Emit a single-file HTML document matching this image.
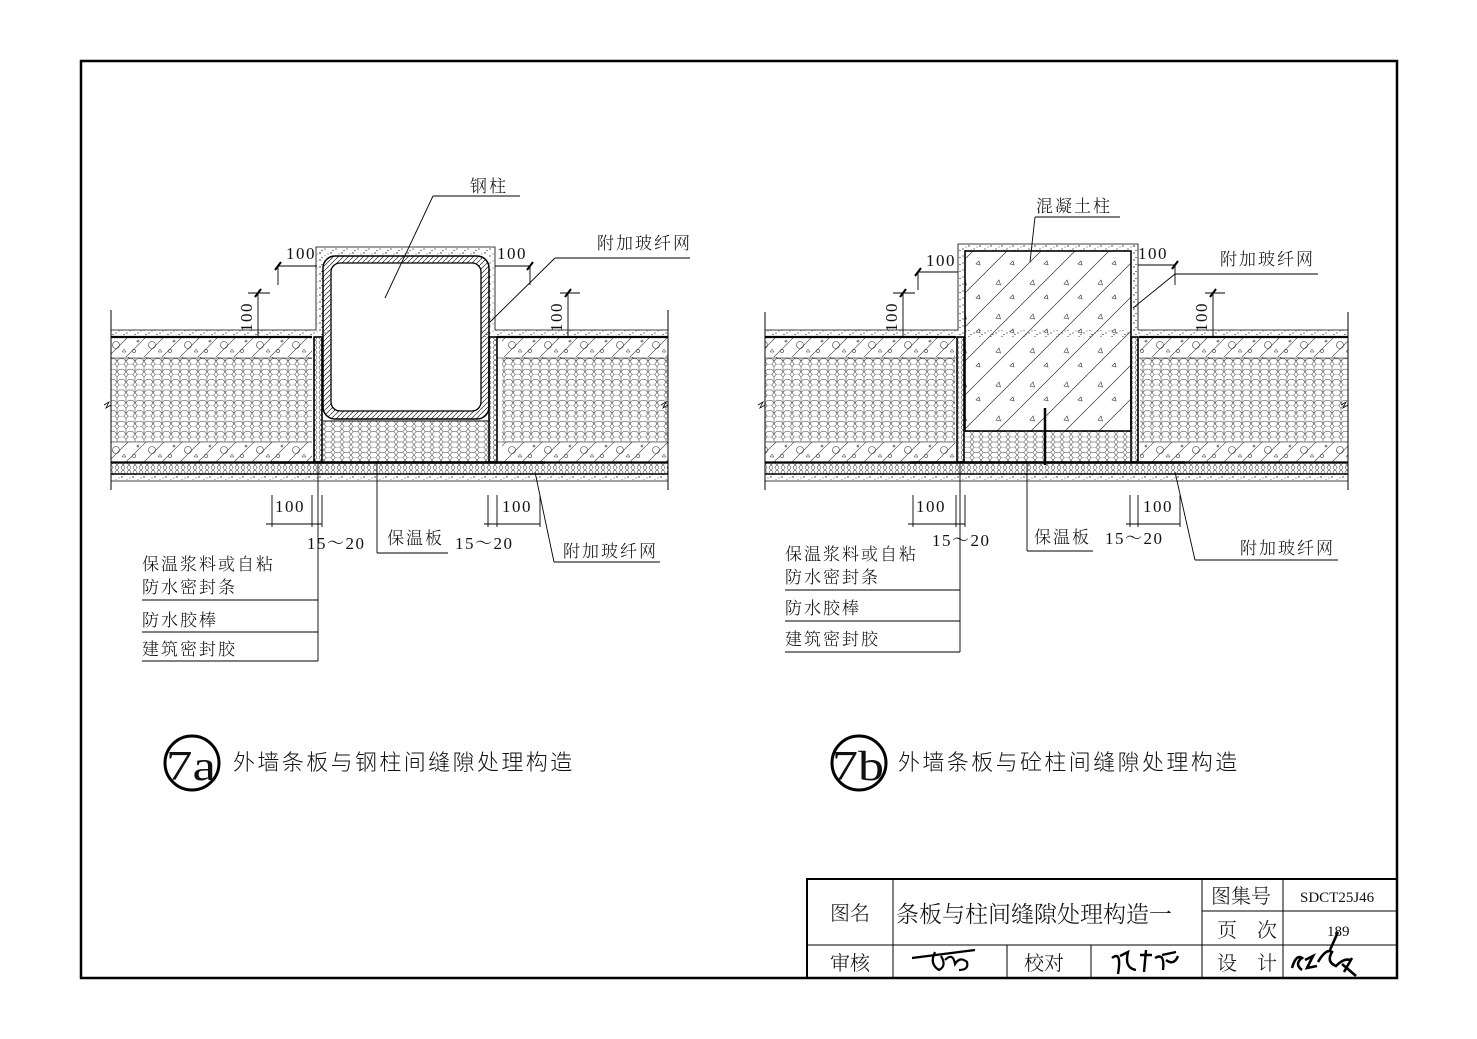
<!DOCTYPE html>
<html><head><meta charset="utf-8"><style>
html,body{margin:0;padding:0;background:#fff;}
svg{display:block;}
text{font-family:"Liberation Serif","Noto Serif CJK SC","Noto Sans CJK SC",serif;fill:#111;}
.cj{font-family:"Noto Sans CJK SC","WenQuanYi Zen Hei",sans-serif;font-weight:300;letter-spacing:2px;}
.dm{letter-spacing:1.5px;}
</style></head><body>
<svg width="1477" height="1039" viewBox="0 0 1477 1039" xmlns="http://www.w3.org/2000/svg">
<defs>
<pattern id="hex" width="9" height="10.4" patternUnits="userSpaceOnUse">
<path d="M0,2.6 L2.25,0 L6.75,0 L9,2.6 M2.25,10.4 L0,7.8 L0,2.6 M6.75,10.4 L9,7.8 L9,2.6 M0,7.8 L2.25,5.2 L6.75,5.2 L9,7.8" fill="none" stroke="#333" stroke-width="0.5"/>
</pattern>
<pattern id="hex2" width="9" height="10.4" patternUnits="userSpaceOnUse">
<path d="M2.25,0 L6.75,0 L9,2.6 L6.75,5.2 L2.25,5.2 L0,2.6 Z M2.25,5.2 L0,7.8 L2.25,10.4 M6.75,5.2 L9,7.8 L6.75,10.4" fill="none" stroke="#333" stroke-width="0.5"/>
</pattern>
<pattern id="hexs" width="6" height="5" patternUnits="userSpaceOnUse">
<circle cx="3" cy="2.5" r="1.9" fill="none" stroke="#444" stroke-width="0.6"/>
</pattern>
<pattern id="dots" width="11" height="7" patternUnits="userSpaceOnUse">
<circle cx="1" cy="1" r="0.7" fill="#222"/><circle cx="6" cy="4" r="0.6" fill="#222"/><circle cx="9" cy="2" r="0.5" fill="#333"/><circle cx="3" cy="5.5" r="0.6" fill="#222"/>
</pattern>
<pattern id="conc" width="36" height="21" patternUnits="userSpaceOnUse">
<path d="M0,21 L21,0 M18,21 L39,0 M-18,21 L3,0" stroke="#333" stroke-width="0.6"/>
<circle cx="8" cy="9" r="3.5" fill="none" stroke="#333" stroke-width="0.6"/>
<circle cx="26" cy="15" r="1.6" fill="none" stroke="#333" stroke-width="0.6"/>
<circle cx="30" cy="5" r="1" fill="none" stroke="#333" stroke-width="0.6"/>
<path d="M14,16 l2,-3 l2,3 z" fill="none" stroke="#333" stroke-width="0.5"/>
</pattern>
<pattern id="steel" width="5" height="5" patternUnits="userSpaceOnUse">
<path d="M0,5 L5,0" stroke="#222" stroke-width="0.7"/>
</pattern>
<pattern id="rc" width="34" height="34" patternUnits="userSpaceOnUse">
<path d="M0,34 L34,0" stroke="#333" stroke-width="0.7"/>
<path d="M10,12 l3,-4 l1.5,5 z M24,26 l3,-3 l1,4 z" fill="none" stroke="#333" stroke-width="0.6"/>
</pattern>
</defs>

<rect x="81" y="61" width="1316" height="917" fill="none" stroke="#000" stroke-width="2.5"/>

<!-- ===== 7a ===== -->
<g stroke="#000" fill="none">
<rect x="111" y="330" width="557" height="7" fill="url(#dots)" stroke="none"/>
<rect x="111" y="337" width="557" height="21" fill="url(#conc)" stroke="none"/>
<rect x="111" y="358" width="557" height="84" fill="url(#hex)" stroke="none"/>
<rect x="111" y="442" width="557" height="20" fill="url(#conc)" stroke="none"/>
<rect x="111" y="463" width="557" height="11" fill="url(#hexs)" stroke="none"/>
<rect x="111" y="474" width="557" height="6" fill="url(#dots)" stroke="none"/>
<rect x="312" y="337" width="190" height="126" fill="#fff" stroke="none"/>
<line x1="111" y1="330" x2="316" y2="330" stroke-width="0.8"/>
<line x1="495" y1="330" x2="668" y2="330" stroke-width="0.8"/>
<line x1="111" y1="337" x2="312" y2="337" stroke-width="2.2"/>
<line x1="497" y1="337" x2="668" y2="337" stroke-width="2.2"/>
<line x1="111" y1="358" x2="312" y2="358" stroke-width="0.6"/>
<line x1="497" y1="358" x2="668" y2="358" stroke-width="0.6"/>
<line x1="111" y1="442" x2="312" y2="442" stroke-width="0.6"/>
<line x1="497" y1="442" x2="668" y2="442" stroke-width="0.6"/>
<line x1="111" y1="462.5" x2="668" y2="462.5" stroke-width="2.2"/>
<line x1="111" y1="474" x2="668" y2="474" stroke-width="1.6"/>
<line x1="111" y1="481" x2="668" y2="481" stroke-width="0.8"/>
<line x1="111" y1="310" x2="111" y2="490" stroke-width="1"/>
<line x1="668" y1="310" x2="668" y2="490" stroke-width="1"/>
<path d="M104,405 l5,-3 l-3,6 l5,-3" stroke-width="0.8"/>
<path d="M661,405 l5,-3 l-3,6 l5,-3" stroke-width="0.8"/>
<path d="M316,330 L316,247 L495,247 L495,330" fill="none" stroke-width="0.8"/>
<rect x="317" y="248" width="177" height="8" fill="url(#dots)" stroke="none"/>
<rect x="317" y="248" width="6" height="82" fill="url(#dots)" stroke="none"/>
<rect x="489" y="248" width="5" height="82" fill="url(#dots)" stroke="none"/>
<rect x="314" y="337" width="8" height="125" fill="url(#hexs)" stroke-width="1.6"/>
<rect x="489" y="337" width="8" height="125" fill="url(#hexs)" stroke-width="1.6"/>
<rect x="323" y="421" width="166" height="41" fill="url(#hex2)" stroke="none"/>
<line x1="323" y1="421" x2="489" y2="421" stroke-width="1"/>
<rect x="323" y="256" width="166" height="163" rx="12" fill="url(#steel)" stroke-width="1.5"/>
<rect x="331" y="263" width="150" height="148" rx="9" fill="#fff" stroke-width="1.3"/>
<line x1="270" y1="462.5" x2="545" y2="462.5" stroke-width="2.6"/>
</g>

<g stroke="#000" stroke-width="0.9" fill="none">
<line x1="278" y1="266" x2="317" y2="266"/><line x1="278" y1="266" x2="278" y2="285"/>
<line x1="275" y1="270" x2="281" y2="262" stroke-width="2"/>
<line x1="495" y1="266" x2="530" y2="266"/><line x1="530" y1="266" x2="530" y2="285"/>
<line x1="527" y1="270" x2="533" y2="262" stroke-width="2"/>
<line x1="248" y1="293" x2="270" y2="293"/><line x1="258" y1="293" x2="258" y2="337"/>
<line x1="255" y1="297" x2="261" y2="289" stroke-width="2"/>
<line x1="560" y1="293" x2="580" y2="293"/><line x1="568" y1="293" x2="568" y2="337"/>
<line x1="565" y1="297" x2="571" y2="289" stroke-width="2"/>
<line x1="433" y1="196" x2="520" y2="196"/><line x1="433" y1="196" x2="385" y2="298"/>
<line x1="555" y1="258" x2="690" y2="258"/><line x1="555" y1="258" x2="490" y2="322"/>
<line x1="272" y1="495" x2="272" y2="527"/><line x1="266" y1="524" x2="322" y2="524"/>
<line x1="312" y1="495" x2="312" y2="527"/><line x1="322" y1="495" x2="322" y2="527"/>
<line x1="488" y1="495" x2="488" y2="527"/><line x1="497" y1="495" x2="497" y2="527"/>
<line x1="484" y1="524" x2="540" y2="524"/><line x1="540" y1="495" x2="540" y2="527"/>
<line x1="318" y1="462" x2="318" y2="661"/>
<line x1="377" y1="462" x2="377" y2="553"/><line x1="377" y1="553" x2="448" y2="553"/>
<line x1="535" y1="472" x2="554" y2="562"/><line x1="554" y1="562" x2="660" y2="562"/>
<line x1="142" y1="600" x2="318" y2="600"/><line x1="142" y1="632" x2="318" y2="632"/><line x1="142" y1="661" x2="318" y2="661"/>
</g>
<g font-size="17" class="dm">
<text x="286" y="259">100</text><text x="497" y="259">100</text>
<text transform="translate(252,332) rotate(-90)">100</text>
<text transform="translate(562,332) rotate(-90)">100</text>
<text x="275" y="512">100</text><text x="502" y="512">100</text>
<text x="307" y="549">15～20</text><text x="455" y="549">15～20</text>
</g>
<g class="cj" font-size="17">
<text x="470" y="192">钢柱</text>
<text x="597" y="249">附加玻纤网</text>
<text x="387" y="544">保温板</text>
<text x="563" y="557">附加玻纤网</text>
<text x="142" y="570">保温浆料或自粘</text>
<text x="142" y="593">防水密封条</text>
<text x="142" y="626">防水胶棒</text>
<text x="142" y="655">建筑密封胶</text>
</g>

<!-- ===== 7b ===== -->
<g stroke="#000" fill="none">
<rect x="765" y="330" width="583" height="7" fill="url(#dots)" stroke="none"/>
<rect x="765" y="337" width="583" height="21" fill="url(#conc)" stroke="none"/>
<rect x="765" y="358" width="583" height="84" fill="url(#hex)" stroke="none"/>
<rect x="765" y="442" width="583" height="20" fill="url(#conc)" stroke="none"/>
<rect x="765" y="463" width="583" height="11" fill="url(#hexs)" stroke="none"/>
<rect x="765" y="474" width="583" height="6" fill="url(#dots)" stroke="none"/>
<rect x="955" y="337" width="185" height="126" fill="#fff" stroke="none"/>
<line x1="765" y1="330" x2="958" y2="330" stroke-width="0.8"/>
<line x1="1138" y1="330" x2="1348" y2="330" stroke-width="0.8"/>
<line x1="765" y1="337" x2="956" y2="337" stroke-width="2.2"/>
<line x1="1139" y1="337" x2="1348" y2="337" stroke-width="2.2"/>
<line x1="765" y1="358" x2="956" y2="358" stroke-width="0.6"/>
<line x1="1139" y1="358" x2="1348" y2="358" stroke-width="0.6"/>
<line x1="765" y1="442" x2="956" y2="442" stroke-width="0.6"/>
<line x1="1139" y1="442" x2="1348" y2="442" stroke-width="0.6"/>
<line x1="765" y1="462.5" x2="1348" y2="462.5" stroke-width="2.2"/>
<line x1="765" y1="474" x2="1348" y2="474" stroke-width="1.6"/>
<line x1="765" y1="481" x2="1348" y2="481" stroke-width="0.8"/>
<line x1="765" y1="312" x2="765" y2="490" stroke-width="1"/>
<line x1="1348" y1="312" x2="1348" y2="490" stroke-width="1"/>
<path d="M758,405 l5,-3 l-3,6 l5,-3" stroke-width="0.8"/>
<path d="M1341,405 l5,-3 l-3,6 l5,-3" stroke-width="0.8"/>
<path d="M958,330 L958,244 L1138,244 L1138,330" stroke-width="0.8"/>
<rect x="959" y="245" width="178" height="6" fill="url(#dots)" stroke="none"/>
<rect x="959" y="245" width="6" height="85" fill="url(#dots)" stroke="none"/>
<rect x="1131" y="245" width="6" height="85" fill="url(#dots)" stroke="none"/>
<rect x="957" y="337" width="7" height="125" fill="url(#hexs)" stroke-width="1.6"/>
<rect x="1131" y="337" width="7" height="125" fill="url(#hexs)" stroke-width="1.6"/>
<rect x="965" y="431" width="166" height="31" fill="url(#hex2)" stroke="none"/>
<rect x="965" y="251" width="166" height="180" fill="url(#rc)" stroke-width="1.6"/>
<line x1="1045" y1="408" x2="1045" y2="465" stroke-width="2.5"/>
<line x1="910" y1="462.5" x2="1185" y2="462.5" stroke-width="2.6"/>
</g>
<g stroke="#000" stroke-width="0.9" fill="none">
<line x1="918" y1="272" x2="958" y2="272"/><line x1="918" y1="272" x2="918" y2="290"/>
<line x1="915" y1="276" x2="921" y2="268" stroke-width="2"/>
<line x1="1138" y1="265" x2="1175" y2="265"/><line x1="1175" y1="265" x2="1175" y2="285"/>
<line x1="1172" y1="269" x2="1178" y2="261" stroke-width="2"/>
<line x1="893" y1="293" x2="915" y2="293"/><line x1="903" y1="293" x2="903" y2="337"/>
<line x1="900" y1="297" x2="906" y2="289" stroke-width="2"/>
<line x1="1205" y1="293" x2="1225" y2="293"/><line x1="1213" y1="293" x2="1213" y2="337"/>
<line x1="1210" y1="297" x2="1216" y2="289" stroke-width="2"/>
<line x1="1035" y1="217" x2="1120" y2="217"/><line x1="1035" y1="217" x2="1030" y2="262"/>
<line x1="1175" y1="274" x2="1318" y2="274"/><line x1="1175" y1="274" x2="1133" y2="308"/>
<line x1="913" y1="495" x2="913" y2="527"/><line x1="908" y1="524" x2="965" y2="524"/>
<line x1="956" y1="495" x2="956" y2="527"/><line x1="965" y1="495" x2="965" y2="527"/>
<line x1="1130" y1="495" x2="1130" y2="527"/><line x1="1138" y1="495" x2="1138" y2="527"/>
<line x1="1126" y1="524" x2="1180" y2="524"/><line x1="1180" y1="495" x2="1180" y2="527"/>
<line x1="960" y1="462" x2="960" y2="652"/>
<line x1="1027" y1="462" x2="1027" y2="551"/><line x1="1027" y1="551" x2="1093" y2="551"/>
<line x1="1175" y1="472" x2="1195" y2="560"/><line x1="1195" y1="560" x2="1338" y2="560"/>
<line x1="785" y1="590" x2="960" y2="590"/><line x1="785" y1="621" x2="960" y2="621"/><line x1="785" y1="652" x2="960" y2="652"/>
</g>
<g font-size="17" class="dm">
<text x="926" y="266">100</text><text x="1138" y="259">100</text>
<text transform="translate(897,332) rotate(-90)">100</text>
<text transform="translate(1207,332) rotate(-90)">100</text>
<text x="916" y="512">100</text><text x="1143" y="512">100</text>
<text x="932" y="546">15～20</text><text x="1105" y="544">15～20</text>
</g>
<g class="cj" font-size="17">
<text x="1036" y="212">混凝土柱</text>
<text x="1220" y="265">附加玻纤网</text>
<text x="1034" y="543">保温板</text>
<text x="1240" y="554">附加玻纤网</text>
<text x="785" y="560">保温浆料或自粘</text>
<text x="785" y="583">防水密封条</text>
<text x="785" y="614">防水胶棒</text>
<text x="785" y="645">建筑密封胶</text>
</g>

<circle cx="192" cy="763" r="27" fill="none" stroke="#000" stroke-width="3"/>
<text x="166" y="780" font-size="42" textLength="50" lengthAdjust="spacingAndGlyphs">7a</text>
<text class="cj" x="233" y="770" font-size="22" style="letter-spacing:2.4px">外墙条板与钢柱间缝隙处理构造</text>
<circle cx="859" cy="763" r="27" fill="none" stroke="#000" stroke-width="3"/>
<text x="832" y="780" font-size="42" textLength="52" lengthAdjust="spacingAndGlyphs">7b</text>
<text class="cj" x="898" y="770" font-size="22" style="letter-spacing:2.4px">外墙条板与砼柱间缝隙处理构造</text>

<g stroke="#000" fill="none">
<rect x="807" y="879" width="590" height="99" stroke-width="2"/>
<line x1="893" y1="879" x2="893" y2="978" stroke-width="1"/>
<line x1="1202" y1="879" x2="1202" y2="978" stroke-width="1"/>
<line x1="1283" y1="879" x2="1283" y2="978" stroke-width="1"/>
<line x1="1202" y1="911" x2="1397" y2="911" stroke-width="1"/>
<line x1="807" y1="945" x2="1397" y2="945" stroke-width="1"/>
<line x1="1007" y1="945" x2="1007" y2="978" stroke-width="1"/>
<line x1="1091" y1="945" x2="1091" y2="978" stroke-width="1"/>
<path d="M912,958 L975,950 M935,952 q-6,12 4,18 q8,-4 2,-14 M945,960 q8,-8 10,4 q5,-8 12,-2 q2,8 -8,8" stroke-width="2.2"/>
<path d="M1112,958 q10,-8 6,16 M1120,956 l8,-4 q-4,16 8,18 M1140,955 l12,0 M1146,950 l-2,22 M1155,958 q10,-6 8,12 M1162,955 l14,-3 M1166,960 q8,6 12,-4" stroke-width="2.4"/>
<path d="M1292,968 q4,-14 10,-10 q-8,6 0,12 M1305,960 l8,-4 l-6,12 l10,-2 M1318,962 q8,-14 14,-10 q-6,10 4,14 q8,-8 14,-6 M1330,950 l8,-18 M1342,964 l14,12 M1352,958 l-8,14" stroke-width="2.6"/>
</g>
<g class="cj" font-size="20" style="letter-spacing:0">
<text x="830" y="920">图名</text>
<text x="896" y="922" font-size="23">条板与柱间缝隙处理构造一</text>
<text x="1211" y="903">图集号</text>
<text x="1217" y="937">页　次</text>
<text x="830" y="970">审核</text>
<text x="1024" y="970">校对</text>
<text x="1217" y="970">设　计</text>
</g>
<text x="1300" y="902" font-size="15">SDCT25J46</text>
<text x="1327" y="936" font-size="15">189</text>
</svg>
</body></html>
